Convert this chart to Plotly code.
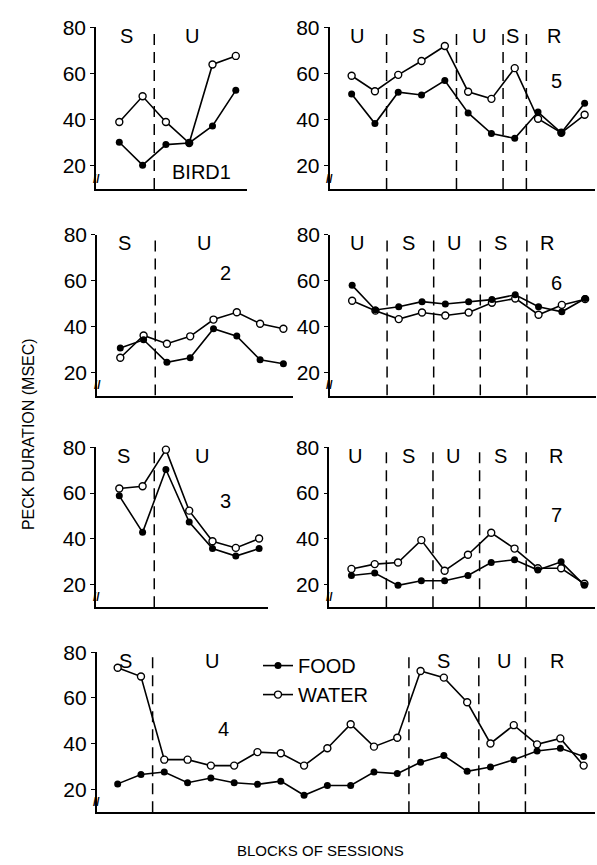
import plotly.graph_objects as go

W, H = 597, 865

# ---------------- data ----------------
y_ticks = [20, 40, 60, 80]

bird1_food = [30.2, 20.3, 29.2, 29.9, 37.3, 52.7]
bird1_water = [39.0, 50.1, 39.0, 29.9, 63.9, 67.6]
bird1_bounds = [2.5]
bird1_phases = ["S", "U"]

bird2_food = [30.7, 34.3, 24.5, 26.5, 39.1, 35.9, 25.6, 23.9]
bird2_water = [26.5, 36.2, 32.6, 35.8, 43.1, 46.3, 41.3, 39.1]
bird2_bounds = [2.5]
bird2_phases = ["S", "U"]

bird3_food = [58.8, 42.8, 70.3, 47.3, 35.7, 32.4, 35.7]
bird3_water = [62.0, 63.0, 79.0, 52.3, 38.9, 36.0, 40.1]
bird3_bounds = [2.5]
bird3_phases = ["S", "U"]

bird4_food = [22.4, 26.5, 27.6, 22.9, 25.0, 22.9, 22.2, 23.6, 17.4, 21.7, 21.7,
              27.6, 26.9, 31.9, 34.8, 27.9, 29.8, 33.0, 36.8, 38.0, 34.4]
bird4_water = [73.2, 69.4, 33.0, 33.0, 30.4, 30.4, 36.3, 35.8, 30.4, 38.0, 48.5,
               38.7, 42.6, 71.8, 68.9, 58.1, 40.1, 48.1, 39.7, 42.3, 30.4]
bird4_bounds = [2.5, 13.5, 16.5, 18.5]
bird4_phases = ["S", "U", "S", "U", "R"]

bird5_food = [51.1, 38.3, 51.9, 50.7, 56.9, 42.9, 34.0, 31.9, 43.3, 34.3, 47.1]
bird5_water = [59.0, 52.3, 59.4, 65.4, 71.9, 52.1, 49.0, 62.3, 40.4, 34.3, 42.1]
bird5_bounds = [2.5, 5.5, 7.5, 8.5]
bird5_phases = ["U", "S", "U", "S", "R"]

bird6_food = [58.0, 47.3, 48.7, 50.9, 49.9, 50.9, 51.8, 53.9, 48.7, 46.5, 52.3]
bird6_water = [51.3, 47.0, 43.3, 46.2, 44.9, 46.2, 50.4, 52.3, 45.2, 49.5, 52.0]
bird6_bounds = [2.5, 4.5, 6.5, 8.5]
bird6_phases = ["U", "S", "U", "S", "R"]

bird7_food = [23.9, 25.0, 19.6, 21.6, 21.6, 23.9, 29.6, 30.8, 26.3, 29.9, 19.6]
bird7_water = [26.8, 28.9, 29.6, 39.4, 26.0, 33.0, 42.6, 35.7, 27.1, 27.1, 20.3]
bird7_bounds = [2.5, 4.5, 6.5, 8.5]
bird7_phases = ["U", "S", "U", "S", "R"]

# ---------------- layout specification ----------------
PX_PER_BLOCK = 23.3
ROWS = {1: (15.5, 156.0), 2: (226.0, 365.7), 3: (441.5, 580.5), 4: (649.3, 788.3)}
FONT = "Liberation Sans, Arial, sans-serif"

panels = [
    dict(label="BIRD1", food=bird1_food, water=bird1_water, bounds=bird1_bounds,
         phases=bird1_phases, row=1, ax_px=96.0, xr=(0.0, 6.5),
         phase_x=[1.32, 4.11], num_xy=(4.54, 17.5)),
    dict(label="5", food=bird5_food, water=bird5_water, bounds=bird5_bounds,
         phases=bird5_phases, row=1, ax_px=329.5, xr=(0.05, 11.45),
         phase_x=[1.24, 3.88, 6.46, 7.89, 9.68], num_xy=(9.8, 56.7)),
    dict(label="2", food=bird2_food, water=bird2_water, bounds=bird2_bounds,
         phases=bird2_phases, row=2, ax_px=97.0, xr=(0.0, 8.4),
         phase_x=[1.2, 4.59], num_xy=(5.52, 63.2)),
    dict(label="6", food=bird6_food, water=bird6_water, bounds=bird6_bounds,
         phases=bird6_phases, row=2, ax_px=330.0, xr=(0.05, 11.45),
         phase_x=[1.21, 3.43, 5.39, 7.37, 9.35], num_xy=(9.76, 58.9)),
    dict(label="3", food=bird3_food, water=bird3_water, bounds=bird3_bounds,
         phases=bird3_phases, row=3, ax_px=96.0, xr=(0.0, 7.4),
         phase_x=[1.17, 4.54], num_xy=(5.57, 56.5)),
    dict(label="7", food=bird7_food, water=bird7_water, bounds=bird7_bounds,
         phases=bird7_phases, row=3, ax_px=329.3, xr=(0.05, 11.45),
         phase_x=[1.15, 3.46, 5.36, 7.4, 9.79], num_xy=(9.79, 50.4)),
    dict(label="4", food=bird4_food, water=bird4_water, bounds=bird4_bounds,
         phases=bird4_phases, row=4, ax_px=96.7, xr=(0.1, 21.5),
         phase_x=[1.33, 5.06, 14.99, 17.59, 19.85], num_xy=(5.56, 46.6)),
]

fig = go.Figure()
shapes = []
annotations = []
layout_axes = {}

for i, p in enumerate(panels, start=1):
    xa = "x" if i == 1 else f"x{i}"
    ya = "y" if i == 1 else f"y{i}"
    top80, y20 = ROWS[p["row"]]
    ppu = (y20 - top80) / 60.0
    base = y20 + 10 * ppu
    x0, x1 = p["xr"]
    dom_x = [p["ax_px"] / W, min(1.0, (p["ax_px"] + (x1 - x0) * PX_PER_BLOCK) / W)]
    dom_y = [1 - base / H, 1 - top80 / H]

    blocks = list(range(1, len(p["food"]) + 1))
    is_legend = p["label"] == "4"

    fig.add_trace(go.Scatter(
        x=blocks, y=p["water"], xaxis=xa, yaxis=ya, mode="lines+markers",
        name="WATER", legendrank=2, showlegend=is_legend,
        line=dict(color="black", width=1.6),
        marker=dict(symbol="circle", size=7, color="white",
                    line=dict(color="black", width=1.4)),
        cliponaxis=False))
    fig.add_trace(go.Scatter(
        x=blocks, y=p["food"], xaxis=xa, yaxis=ya, mode="lines+markers",
        name="FOOD", legendrank=1, showlegend=is_legend,
        line=dict(color="black", width=1.6),
        marker=dict(symbol="circle", size=7, color="black"),
        cliponaxis=False))

    layout_axes["xaxis" if i == 1 else f"xaxis{i}"] = dict(
        domain=dom_x, range=[x0, x1], anchor=ya, showgrid=False, zeroline=False,
        showticklabels=False, ticks="", showline=True, linecolor="black",
        linewidth=1.6, fixedrange=True)
    layout_axes["yaxis" if i == 1 else f"yaxis{i}"] = dict(
        domain=dom_y, range=[10, 80], anchor=xa, showgrid=False, zeroline=False,
        tickvals=y_ticks, ticktext=[str(v) for v in y_ticks], ticks="outside",
        ticklen=4, tickwidth=1.4, tickcolor="black", showline=True,
        linecolor="black", linewidth=1.6,
        tickfont=dict(family=FONT, size=21, color="black"), fixedrange=True)

    for b in p["bounds"]:
        shapes.append(dict(type="line", xref=xa, yref=ya, x0=b, x1=b, y0=10, y1=80,
                           line=dict(color="black", width=1.5, dash="11px,7px")))

    for txt, px in zip(p["phases"], p["phase_x"]):
        annotations.append(dict(text=txt, x=px, y=76.3, xref=xa, yref=ya,
                                showarrow=False, xanchor="center", yanchor="middle",
                                font=dict(family=FONT, size=20, color="black")))

    nx, ny = p["num_xy"]
    annotations.append(dict(text=p["label"], x=nx, y=ny, xref=xa, yref=ya,
                            showarrow=False, xanchor="center", yanchor="middle",
                            font=dict(family=FONT, size=20, color="black")))
    # axis break mark
    annotations.append(dict(text="<b>//</b>", x=x0, y=14.5, xref=xa, yref=ya,
                            showarrow=False, xanchor="center", yanchor="middle",
                            font=dict(family=FONT, size=12, color="black")))

annotations.append(dict(text="PECK DURATION (MSEC)", x=28 / W, y=1 - 428 / H,
                        xref="paper", yref="paper", textangle=-90, showarrow=False,
                        xanchor="center", yanchor="middle",
                        font=dict(family=FONT, size=16, color="black")))
annotations.append(dict(text="BLOCKS OF SESSIONS", x=320 / W, y=1 - 850 / H,
                        xref="paper", yref="paper", showarrow=False,
                        xanchor="center", yanchor="middle",
                        font=dict(family=FONT, size=15, color="black")))

fig.update_layout(
    width=W, height=H, margin=dict(l=0, r=0, t=0, b=0),
    paper_bgcolor="white", plot_bgcolor="rgba(0,0,0,0)",
    shapes=shapes, annotations=annotations,
    showlegend=True,
    legend=dict(x=258 / W, y=1 - 643 / H, xanchor="left", yanchor="top",
                bgcolor="rgba(0,0,0,0)", itemwidth=30, tracegroupgap=0,
                font=dict(family=FONT, size=20, color="black")),
    **layout_axes,
)

fig.write_html("out.html", config={"displayModeBar": False},
               post_script="document.body.style.margin='0';"
                           "document.body.style.overflow='hidden';")
